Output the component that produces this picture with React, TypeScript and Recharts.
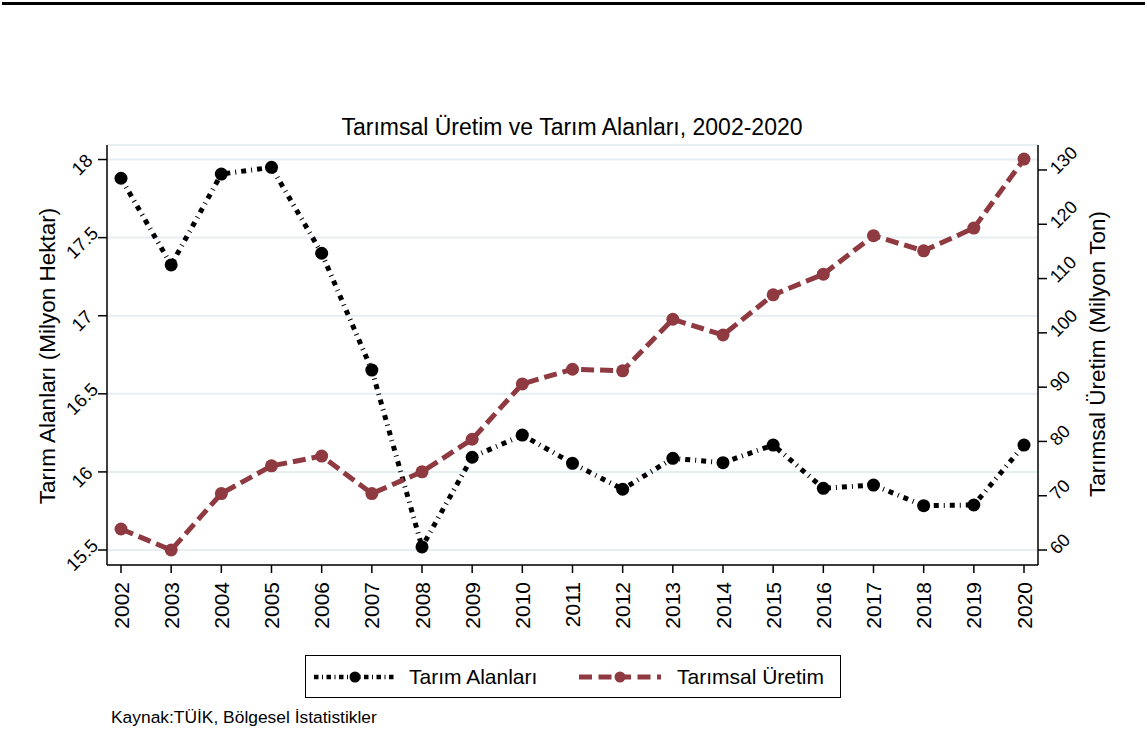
import React from 'react';
import { LineChart, Line, XAxis, YAxis, CartesianGrid, Legend } from 'recharts';

const years = [2002, 2003, 2004, 2005, 2006, 2007, 2008, 2009, 2010, 2011, 2012, 2013, 2014, 2015, 2016, 2017, 2018, 2019, 2020];
const tarimAlanlari = [17.88, 17.325, 17.907, 17.95, 17.4, 16.652, 15.52, 16.094, 16.236, 16.055, 15.889, 16.087, 16.059, 16.172, 15.895, 15.916, 15.784, 15.788, 16.172];
const tarimsalUretim = [63.87, 60.0, 70.4, 75.5, 77.3, 70.4, 74.4, 80.4, 90.6, 93.3, 93.0, 102.5, 99.6, 107.0, 110.8, 117.9, 115.1, 119.3, 132.0];
const leftTicks = [15.5, 16, 16.5, 17, 17.5, 18];
const rightTicks = [60, 70, 80, 90, 100, 110, 120, 130];

const FONT = '"Liberation Sans", Arial, Helvetica, sans-serif';
const RED = '#8f3a40';

const data = years.map((y, i) => ({ year: y, alan: tarimAlanlari[i], uretim: tarimsalUretim[i] }));

const LeftTick = (props: any) => {
  const { x, y, payload } = props;
  const cx = x - 16;
  const cy = y + 5;
  return (
    <text x={cx} y={cy} transform={`rotate(-45 ${cx} ${cy})`} textAnchor="middle" dominantBaseline="central" fontSize={18.5} fontFamily={FONT} fill="#000">
      {payload.value}
    </text>
  );
};

const RightTick = (props: any) => {
  const { x, y, payload } = props;
  const cx = x + 6;
  const cy = y + 1;
  return (
    <text x={cx} y={cy} transform={`rotate(-45 ${cx} ${cy})`} textAnchor="start" dominantBaseline="central" fontSize={18} fontFamily={FONT} fill="#000">
      {payload.value}
    </text>
  );
};

const BottomTick = (props: any) => {
  const { x, y, payload } = props;
  const cx = x;
  const cy = y + 9;
  return (
    <text x={cx} y={cy} transform={`rotate(-90 ${cx} ${cy})`} textAnchor="end" dominantBaseline="central" fontSize={21} fontFamily={FONT} fill="#000">
      {payload.value}
    </text>
  );
};

const LegendBox = () => (
  <div style={{ position: 'relative', width: 536, height: 43, border: '1px solid #000', boxSizing: 'border-box', background: '#fff', fontFamily: FONT }}>
    <svg width={82} height={20} style={{ position: 'absolute', left: 8, top: 10.5 }}>
      <line x1={0} y1={10} x2={82} y2={10} stroke="#000" strokeWidth={4.5} strokeDasharray="4.5 3.5 1 3.5" />
      <circle cx={41} cy={10} r={5.5} fill="#000" />
    </svg>
    <span style={{ position: 'absolute', left: 103, top: 0, lineHeight: '41px', fontSize: 21, color: '#000', whiteSpace: 'nowrap' }}>Tarım Alanları</span>
    <svg width={82} height={20} style={{ position: 'absolute', left: 273, top: 10.5 }}>
      <line x1={0} y1={10} x2={82} y2={10} stroke={RED} strokeWidth={5} strokeDasharray="13 6.5" />
      <circle cx={41} cy={10} r={5.5} fill={RED} />
    </svg>
    <span style={{ position: 'absolute', left: 371, top: 0, lineHeight: '41px', fontSize: 21, color: '#000', whiteSpace: 'nowrap' }}>Tarımsal Üretim</span>
  </div>
);

export default function App() {
  return (
    <div style={{ position: 'absolute', left: 0, top: 0, width: 1147, height: 733, background: '#fff', fontFamily: FONT }}>
      <div style={{ position: 'absolute', left: 2, top: 2, width: 1143, height: 3, background: '#000' }} />
      <div style={{ position: 'absolute', left: 0, top: 116, width: 1144, textAlign: 'center', fontSize: 23, lineHeight: '23px', color: '#000', whiteSpace: 'nowrap' }}>
        Tarımsal Üretim ve Tarım Alanları, 2002-2020
      </div>
      <div style={{ position: 'absolute', left: 111, top: 709, fontSize: 17.4, lineHeight: '17px', color: '#000', whiteSpace: 'nowrap' }}>
        Kaynak:TÜİK, Bölgesel İstatistikler
      </div>
      <LineChart width={1147} height={733} data={data} margin={{ top: 145, right: 0, bottom: 0, left: 0 }}>
        <CartesianGrid yAxisId="left" vertical={false} horizontal stroke="#e6eef1" strokeWidth={2} />
        <XAxis
          dataKey="year"
          type="category"
          padding={{ left: 14, right: 14 }}
          height={168}
          interval={0}
          tickSize={8}
          tickMargin={0}
          axisLine={{ stroke: '#000', strokeWidth: 1.5 }}
          tickLine={{ stroke: '#000', strokeWidth: 1.5 }}
          tick={<BottomTick />}
        />
        <YAxis
          yAxisId="left"
          orientation="left"
          width={107}
          domain={[15.404, 18.093]}
          ticks={leftTicks}
          allowDataOverflow
          tickSize={9}
          tickMargin={0}
          axisLine={{ stroke: '#000', strokeWidth: 1.5 }}
          tickLine={{ stroke: '#000', strokeWidth: 1.5 }}
          tick={<LeftTick />}
          label={{
            content: () => (
              <text x={47} y={356} transform="rotate(-90 47 356)" textAnchor="middle" dominantBaseline="central" fontSize={22.5} fontFamily={FONT} fill="#000">
                Tarım Alanları (Milyon Hektar)
              </text>
            ),
          }}
        />
        <YAxis
          yAxisId="right"
          orientation="right"
          width={109}
          domain={[57.24, 134.6]}
          ticks={rightTicks}
          allowDataOverflow
          tickSize={9}
          tickMargin={0}
          axisLine={{ stroke: '#000', strokeWidth: 1.5 }}
          tickLine={{ stroke: '#000', strokeWidth: 1.5 }}
          tick={<RightTick />}
          label={{
            content: () => (
              <text x={1097} y={354} transform="rotate(-90 1097 354)" textAnchor="middle" dominantBaseline="central" fontSize={22.5} fontFamily={FONT} fill="#000">
                Tarımsal Üretim (Milyon Ton)
              </text>
            ),
          }}
        />
        <Legend
          verticalAlign="middle"
          align="center"
          layout="horizontal"
          wrapperStyle={{ position: 'absolute', left: 305, top: 655, width: 536, height: 43 }}
          content={() => <LegendBox />}
        />
        <Line
          yAxisId="left"
          type="linear"
          dataKey="alan"
          name="Tarım Alanları"
          stroke="#000"
          strokeWidth={5}
          strokeDasharray="5 5 1 5"
          dot={{ r: 6.5, fill: '#000', stroke: 'none' }}
          activeDot={false}
          isAnimationActive={false}
        />
        <Line
          yAxisId="right"
          type="linear"
          dataKey="uretim"
          name="Tarımsal Üretim"
          stroke={RED}
          strokeWidth={5}
          strokeDasharray="13 6"
          dot={{ r: 6.5, fill: RED, stroke: 'none' }}
          activeDot={false}
          isAnimationActive={false}
        />
      </LineChart>
    </div>
  );
}
